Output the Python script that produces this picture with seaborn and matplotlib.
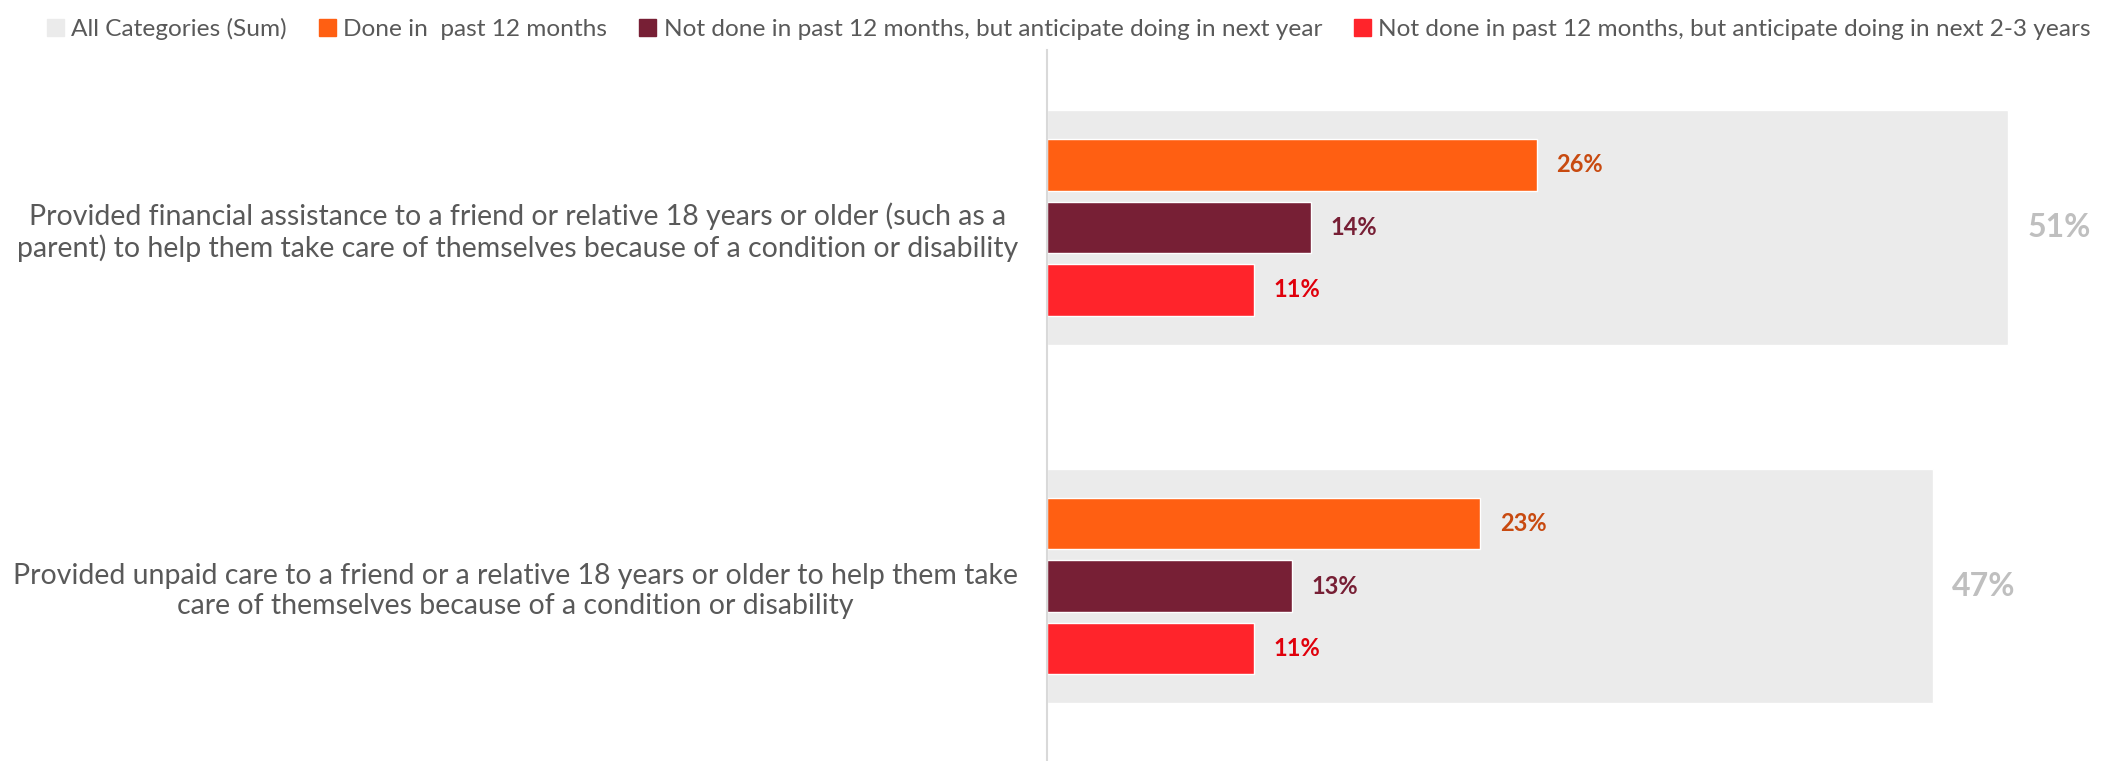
import pandas as pd
import matplotlib.pyplot as plt
import seaborn as sns
from matplotlib.patches import Patch

# ------------------------------
# Data
# ------------------------------
categories = [
    "Provided financial assistance to a friend or relative 18 years or older (such as a\n"
    "parent) to help them take care of themselves because of a condition or disability",
    "Provided unpaid care to a friend or a relative 18 years or older to help them take\n"
    "care of themselves because of a condition or disability",
]
total_sum = [51, 47]
done_past_12 = [26, 23]
next_year = [14, 13]
next_2_3_years = [11, 11]

series_names = [
    "Done in  past 12 months",
    "Not done in past 12 months, but anticipate doing in next year",
    "Not done in past 12 months, but anticipate doing in next 2-3 years",
]
series_colors = ["#FF5F12", "#771F35", "#FF242B"]
label_colors = ["#C84A10", "#771F35", "#E0000B"]
sum_color = "#EBEBEB"

# long form table for the grouped bars
long_df = pd.DataFrame({
    "Category": categories * 3,
    "Series": [s for s in series_names for _ in categories],
    "Value": done_past_12 + next_year + next_2_3_years,
})
sum_df = pd.DataFrame({"Category": categories, "Value": total_sum})

# ------------------------------
# Plot
# ------------------------------
sns.set_style("white")
plt.rcParams["font.family"] = ["Lato", "DejaVu Sans"]

fig = plt.figure(figsize=(21.21, 7.61), dpi=100)
ax = fig.add_axes([1047 / 2121, 0.0, 1 - 1047 / 2121, 1 - 50 / 761])

# background "sum" bars
sns.barplot(data=sum_df, y="Category", x="Value", color=sum_color,
            width=0.655, orient="h", ax=ax, saturation=1)

# grouped detail bars
sns.barplot(data=long_df, y="Category", x="Value", hue="Series",
            hue_order=series_names, palette=series_colors, width=0.523,
            gap=0.17, orient="h", ax=ax, saturation=1, legend=False)

# value labels
containers = ax.containers
ax.bar_label(containers[0], labels=[f"{v}%" for v in total_sum], padding=14,
             color="#BFBFBF", fontsize=23, fontweight="bold")
for cont, vals, col in zip(containers[1:], [done_past_12, next_year, next_2_3_years], label_colors):
    ax.bar_label(cont, labels=[f"{v}%" for v in vals], padding=14,
                 color=col, fontsize=17, fontweight="bold")

ax.set_xlim(0, 57)
ax.set_ylim(1.488, -0.495)
ax.set_xlabel("")
ax.set_ylabel("")
ax.set_xticks([])
ax.tick_params(axis="y", length=0, pad=21, labelsize=20.5, labelcolor="#595959")
for lbl in ax.get_yticklabels():
    lbl.set_multialignment("center")

for side in ["top", "right", "bottom"]:
    ax.spines[side].set_visible(False)
ax.spines["left"].set_color("#D9D9D9")
ax.spines["left"].set_linewidth(1.5)

# legend across the top
handles = [Patch(color=sum_color, label="All Categories (Sum)")] + [
    Patch(color=c, label=n) for c, n in zip(series_colors, series_names)
]
fig.legend(handles=handles, loc="upper center", bbox_to_anchor=(0.504, 1.005), ncol=4,
           frameon=False, fontsize=17.6, labelcolor="#595959", handlelength=0.7,
           handleheight=0.7, handletextpad=0.3, columnspacing=1.3)

plt.savefig("out.png", dpi=100)
